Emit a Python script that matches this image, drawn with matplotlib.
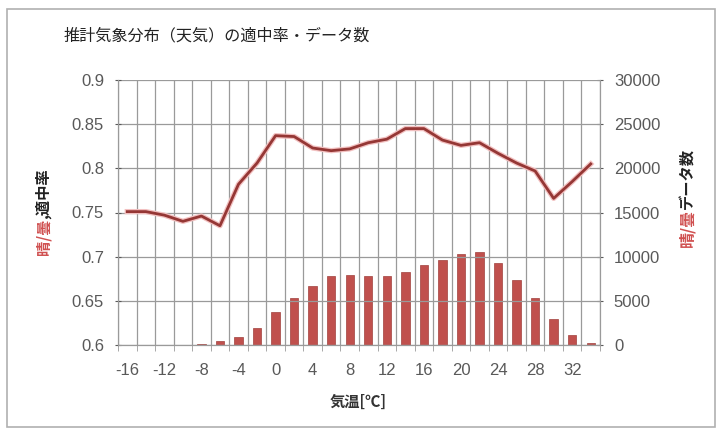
from matplotlib import pyplot as plt
from matplotlib.patches import Rectangle
import matplotlib.patheffects as pe
import numpy as np

plt.rcParams['font.family'] = ['Noto Sans CJK JP', 'DejaVu Sans']

temps = [-16, -14, -12, -10, -8, -6, -4, -2, 0, 2, 4, 6, 8, 10, 12, 14,
         16, 18, 20, 22, 24, 26, 28, 30, 32, 34]
hit_rate = [0.751, 0.751, 0.747, 0.740, 0.746, 0.735, 0.782, 0.806, 0.837, 0.836,
            0.823, 0.820, 0.822, 0.829, 0.833, 0.845, 0.845, 0.832, 0.826, 0.829,
            0.817, 0.806, 0.797, 0.766, 0.785, 0.805]
counts = [0, 0, 0, 0, 100, 500, 950, 1900, 3770, 5360, 6720, 7810, 7960, 7850,
          7850, 8270, 9020, 9620, 10300, 10530, 9320, 7360, 5360, 2940, 1130, 190]

W, H = 717, 434
fig = plt.figure(figsize=(W / 100, H / 100), dpi=100)
ax = fig.add_axes([118 / W, 1 - 345 / H, 482 / W, 265 / H])
ax2 = ax.twinx()

pos = np.arange(len(temps))
gray = '#595959'
gridc = '#9a9a9a'

# bars on the right axis
ax2.bar(pos, counts, width=0.45, color='#C0504D', edgecolor='#A0403D', linewidth=0.5, zorder=2)
ax2.set_ylim(0, 30000)
ax2.set_yticks(np.arange(0, 30001, 5000))

# line on the left axis, drawn above the bars
ax.set_zorder(ax2.get_zorder() + 1)
ax.patch.set_visible(False)
ax.plot(pos, hit_rate, color='#953735', linewidth=2.0, zorder=3,
        path_effects=[pe.Stroke(linewidth=3.8, foreground='#F2C0C0'), pe.Normal()])
ax.set_ylim(0.6, 0.9)
ax.set_yticks(np.arange(0.6, 0.901, 0.05))
ax.set_yticklabels(['0.6', '0.65', '0.7', '0.75', '0.8', '0.85', '0.9'])

ax.set_xlim(-0.5, len(temps) - 0.5)
ax.set_xticks(pos[::2])
ax.set_xticklabels([str(t) for t in temps[::2]])
ax.set_xticks(np.arange(-0.5, len(temps), 1), minor=True)
ax.tick_params(axis='x', which='major', length=0, pad=13)
ax.tick_params(axis='x', which='minor', length=4, color=gridc, direction='out')

ax.grid(axis='y', color=gridc, linewidth=0.9)
ax.grid(axis='x', which='minor', color=gridc, linewidth=0.9)

for a in (ax, ax2):
    for s in a.spines.values():
        s.set_color(gridc)
    a.spines['top'].set_visible(False)
    a.tick_params(axis='y', colors=gray, labelsize=12, length=4, direction='inout', pad=8)
    for lab in a.get_yticklabels() + a.get_xticklabels():
        lab.set_fontfamily(['Liberation Sans', 'DejaVu Sans'])
ax.tick_params(axis='x', labelcolor=gray, labelsize=12)

fig.text(64 / W, 1 - 36 / H, '推計気象分布（天気）の適中率・データ数', fontsize=11.6,
         ha='left', va='center', color='#222222')
fig.text(358 / W, 1 - 402 / H, '気温[℃]', fontsize=11, ha='center', va='center',
         color='#333333', fontweight='bold')

# left axis label (two colours), red part below, black part above
fig.text(43 / W, 1 - 219 / H, '晴/曇', rotation=90, fontsize=11, color='#D05050',
         ha='center', va='top', fontweight='bold')
fig.text(43 / W, 1 - 219 / H, ',適中率', rotation=90, fontsize=11, color='#222222',
         ha='center', va='bottom', fontweight='bold')
# right axis label (two colours)
fig.text(687 / W, 1 - 209 / H, '晴/曇', rotation=90, fontsize=11.5, color='#D05050',
         ha='center', va='top', fontweight='bold')
fig.text(687 / W, 1 - 209 / H, 'データ数', rotation=90, fontsize=11, color='#222222',
         ha='center', va='bottom', fontweight='bold')

fig.patches.append(Rectangle((7 / W, 1 - 427 / H), 708 / W, 418 / H, transform=fig.transFigure,
                             fill=False, edgecolor='#b0b0b0', linewidth=1.2))

fig.savefig('out.png', dpi=100)
